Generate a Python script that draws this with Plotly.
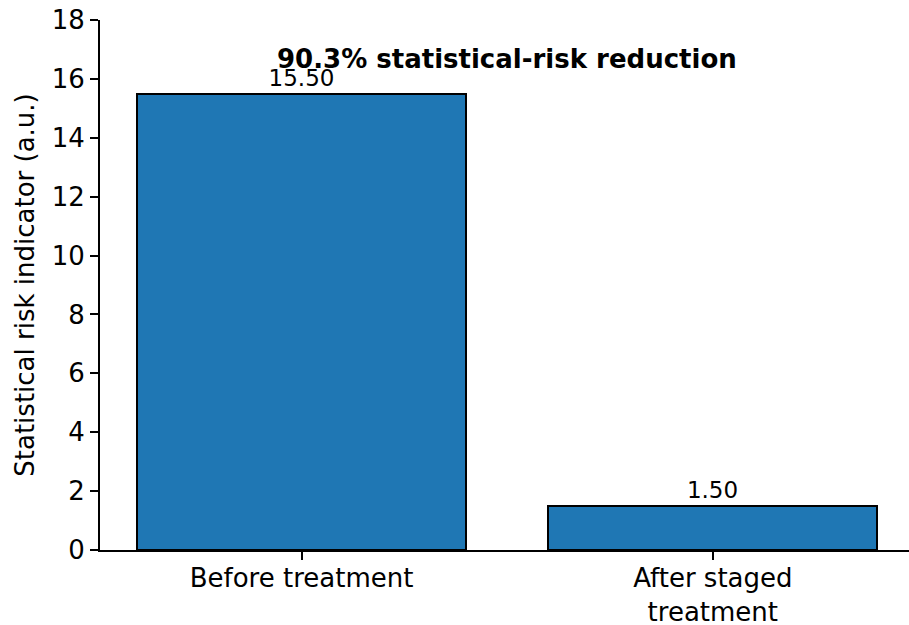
import plotly.graph_objects as go

categories = ["Before treatment", "After staged<br>treatment"]
values = [15.50, 1.50]
value_labels = [f"{v:.2f}" for v in values]
reduction_pct = (values[0] - values[1]) / values[0] * 100
title_text = f"<b>{reduction_pct:.1f}% statistical-risk reduction</b>"
y_ticks = [0, 2, 4, 6, 8, 10, 12, 14, 16, 18]

FONT = "DejaVu Sans"
x_pos = list(range(len(categories)))

fig = go.Figure()
fig.add_trace(go.Bar(
    x=x_pos, y=values, width=0.8,
    marker=dict(color="#1f77b4", line=dict(color="black", width=2)),
    text=value_labels, textposition="outside",
    textfont=dict(family=FONT, size=23, color="black"),
    cliponaxis=False,
))

fig.add_annotation(
    x=0.5, y=16.68, xref="x", yref="y", text=title_text, showarrow=False,
    font=dict(family=FONT, size=26, color="black"), xanchor="center", yanchor="middle",
)

fig.update_layout(
    width=909, height=625,
    margin=dict(l=100, r=0, t=20, b=75),
    plot_bgcolor="white", paper_bgcolor="white",
    showlegend=False,
    font=dict(family=FONT, size=26, color="black"),
    bargap=0,
)
fig.update_xaxes(
    range=[-0.49, 1.477], tickvals=x_pos, ticktext=categories,
    showline=True, linecolor="black", linewidth=2, mirror=False,
    ticks="outside", ticklen=8, tickwidth=2, tickcolor="black",
    showgrid=False, zeroline=False, automargin=False,
    ticklabelstandoff=-4,
    tickfont=dict(family=FONT, size=26, color="black"),
)
fig.update_yaxes(
    range=[0, 18], tickvals=y_ticks,
    showline=True, linecolor="black", linewidth=2,
    ticks="outside", ticklen=8, tickwidth=2, tickcolor="black",
    showgrid=False, zeroline=False, automargin=False,
    tickfont=dict(family=FONT, size=26, color="black"),
    title=dict(text="Statistical risk indicator (a.u.)", font=dict(family=FONT, size=26, color="black"), standoff=10),
)

fig.write_html(
    "out.html",
    config={"displayModeBar": False},
    post_script="document.body.style.margin='0';document.body.style.padding='0';document.body.style.overflow='hidden';",
)
